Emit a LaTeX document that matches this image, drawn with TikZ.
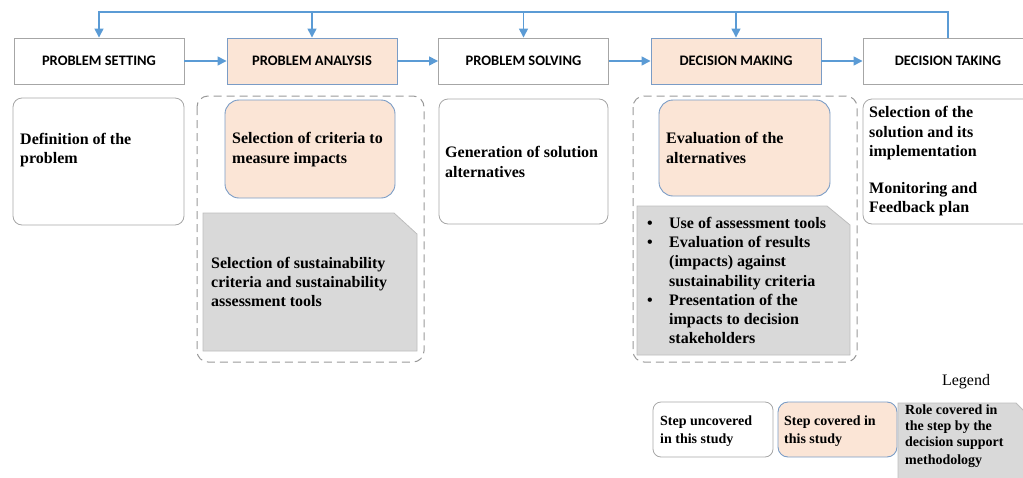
\documentclass[tikz,border=0pt]{standalone}
\usepackage{fontspec}
\setmainfont{Liberation Serif}
\newfontfamily\headfont{Carlito}
\usepackage{tikz}
\usetikzlibrary{arrows.meta}
\definecolor{flowblue}{HTML}{5B9BD5}
\definecolor{peach}{HTML}{FBE5D6}
\definecolor{peachline}{HTML}{7A9CC6}
\definecolor{boxgrey}{HTML}{A6A6A6}
\definecolor{dashgrey}{HTML}{999999}
\definecolor{rolefill}{HTML}{D9D9D9}
\definecolor{roleline}{HTML}{BDBDBD}
\newcommand{\mkbul}{\makebox[22pt][l]{\textbullet}}
\newcommand{\mkind}{\hspace*{22pt}}

\begin{document}
\begin{tikzpicture}[x=1pt,y=-1pt,
    head/.style={draw=boxgrey, line width=0.9pt, minimum width=170pt, minimum height=46pt,
      inner sep=0pt, font=\headfont\bfseries\fontsize{14.5}{17}\selectfont},
    headcov/.style={head, draw=peachline, fill=peach},
    link/.style={draw=flowblue, line width=1.4pt, -{Triangle[length=9pt,width=9pt]}},
    stepbox/.style={draw=boxgrey, line width=0.8pt, rounded corners=9pt},
    covbox/.style={draw=peachline, line width=0.9pt, fill=peach, rounded corners=14pt},
    rolebox/.style={draw=roleline, line width=0.8pt, fill=rolefill},
    grp/.style={draw=dashgrey, line width=1pt, dash pattern=on 8pt off 5pt, rounded corners=11pt},
    txt/.style={anchor=west, align=left, inner sep=0pt, font=\bfseries\fontsize{16}{19.5}\selectfont},
    legtxt/.style={anchor=west, align=left, inner sep=0pt, font=\bfseries\fontsize{14}{18}\selectfont}]
  \clip (0,0) rectangle (1023,477);

  \node[head] (ps) at (99,61) {PROBLEM SETTING};
  \node[headcov] (pa) at (312,61) {PROBLEM ANALYSIS};
  \node[head] (psol) at (523.5,61) {PROBLEM SOLVING};
  \node[headcov] (dm) at (736,61) {DECISION MAKING};
  \node[head] (dt) at (948,61) {DECISION TAKING};

  \draw[link] (ps) -- (pa);
  \draw[link] (pa) -- (psol);
  \draw[link] (psol) -- (dm);
  \draw[link] (dm) -- (dt);

  \coordinate (fb) at (948,12);
  \draw[link] (dt.north) -- (fb) -| (ps.north);
  \foreach \n in {pa,psol,dm}
    \draw[link] (\n.north |- fb) -- (\n.north);

  \draw[grp] (197,96) rectangle (424,362);
  \draw[grp] (633,96) rectangle (857,362);

  \draw[stepbox] (13,98) rectangle (184,225);
  \node[txt] (deftxt) at (20,150) {Definition of the\\problem};

  \draw[covbox] (225,100) rectangle (395,198);
  \node[txt] (critxt) at (232,149.5) {Selection of criteria to\\measure impacts};
  \draw[rolebox] (203,213) -- (394,213) -- (417,234) -- (417,351) -- (203,351) -- cycle;
  \node[txt, font=\bfseries\fontsize{16}{19}\selectfont] (susttxt) at (211,282)
    {Selection of sustainability\\criteria and sustainability\\assessment tools};

  \draw[stepbox] (439,99) rectangle (608,224);
  \node[txt] (gentxt) at (445,162) {Generation of solution\\alternatives};

  \draw[covbox] (659,100) rectangle (830,196);
  \node[txt] (evaltxt) at (666,148) {Evaluation of the\\alternatives};
  \draw[rolebox] (637,206) -- (827,206) -- (850,225) -- (850,355) -- (637,355) -- cycle;
  \node[txt, font=\bfseries\fontsize{16}{19.2}\selectfont] (tooltxt) at (647,280.5)
    {\mkbul Use of assessment tools\\\mkbul Evaluation of results\\\mkind (impacts) against\\\mkind sustainability criteria\\\mkbul Presentation of the\\\mkind impacts to decision\\\mkind stakeholders};

  \draw[stepbox] (863,99) rectangle (1040,224);
  \node[txt] (seltxt) at (869,161.5)
    {Selection of the\\solution and its\\implementation\\[17pt]Monitoring and\\Feedback plan};

  \node[font=\fontsize{16}{19}\selectfont] (legend) at (966,382) {Legend};
  \draw[stepbox, rounded corners=8pt] (653,402) rectangle (773,457);
  \node[legtxt] (leg1) at (660,431) {Step uncovered\\in this study};
  \draw[covbox, rounded corners=10pt] (778,402) rectangle (897,457);
  \node[legtxt] (leg2) at (784,431) {Step covered in\\this study};
  \draw[rolebox] (898,403) -- (1016,403) -- (1030,417) -- (1030,490) -- (898,490) -- cycle;
  \node[legtxt, font=\bfseries\fontsize{14}{16}\selectfont] (leg3) at (905,436)
    {Role covered in\\the step by the\\decision support\\[2pt]methodology};
\end{tikzpicture}
\end{document}
